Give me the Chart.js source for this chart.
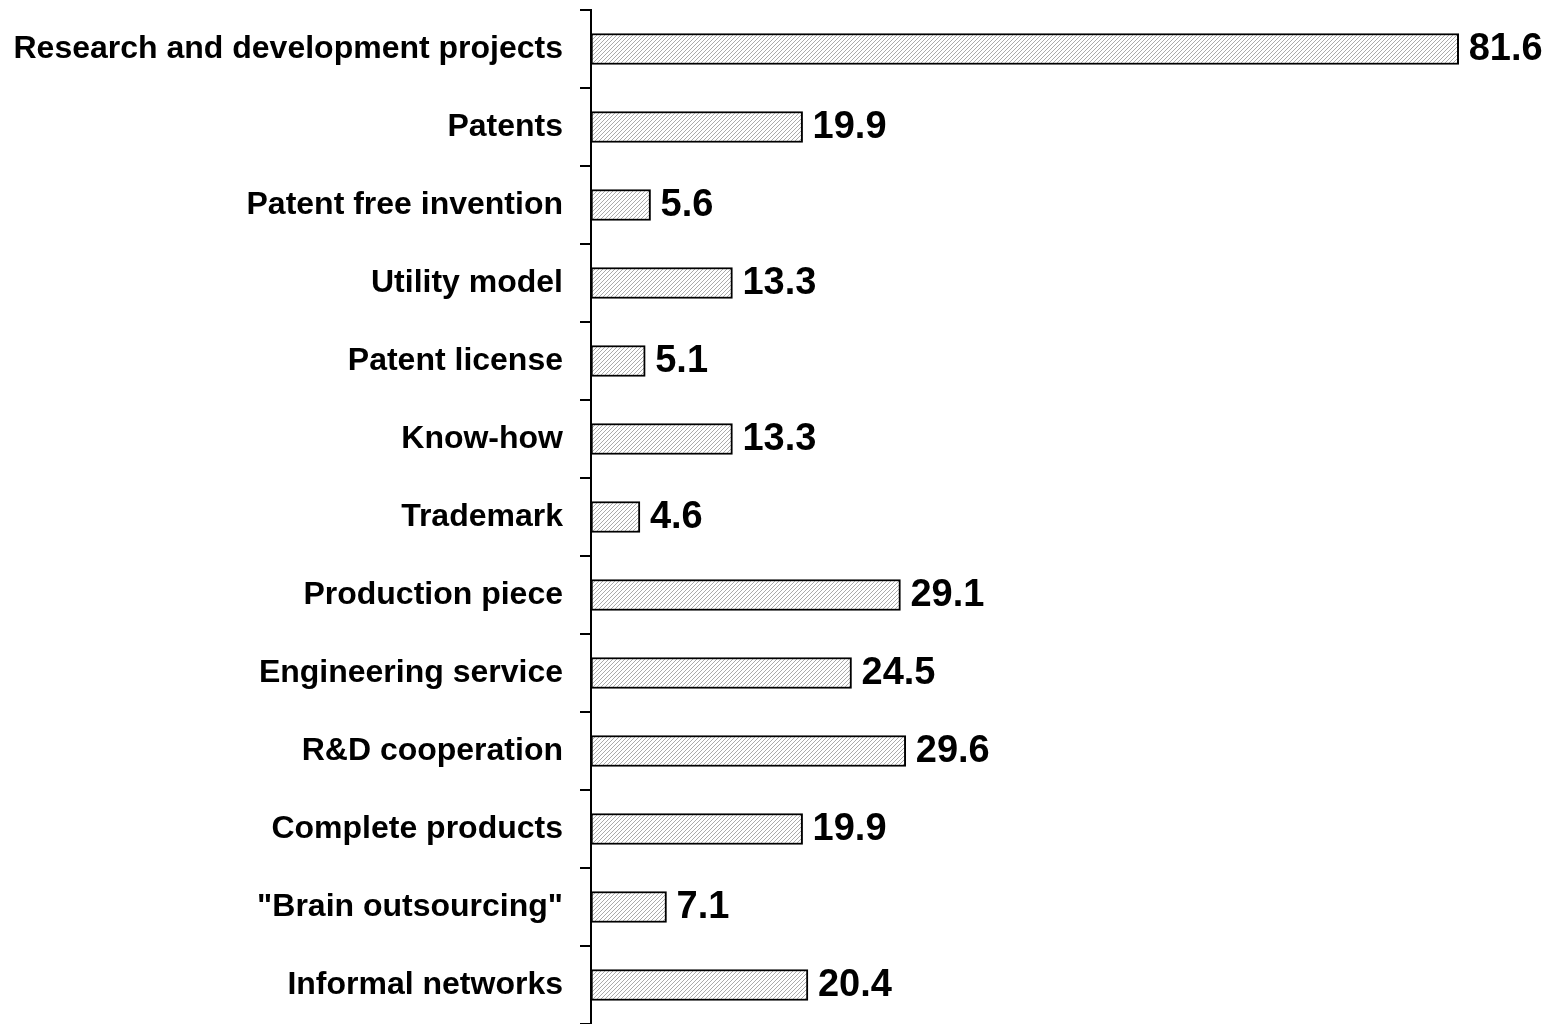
<!DOCTYPE html>
<html>
<head>
<meta charset="utf-8">
<script src="https://cdn.jsdelivr.net/npm/chart.js@4/dist/chart.umd.min.js"></script>
<style>
  html, body { margin: 0; padding: 0; background: #fff; }
  #wrap { width: 1551px; height: 1024px; }
</style>
</head>
<body>
<div id="wrap"><canvas id="chart" width="1551" height="1024"></canvas></div>
<script>
const categories = [
  'Research and development projects',
  'Patents',
  'Patent free invention',
  'Utility model',
  'Patent license',
  'Know-how',
  'Trademark',
  'Production piece',
  'Engineering service',
  'R&D cooperation',
  'Complete products',
  '"Brain outsourcing"',
  'Informal networks'
];
const values = [81.6, 19.9, 5.6, 13.3, 5.1, 13.3, 4.6, 29.1, 24.5, 29.6, 19.9, 7.1, 20.4];
const xMax = 90;

const FONT = '"Liberation Sans", Arial, sans-serif';

// diagonal hatch like the old office fill
function makeHatch() {
  const c = document.createElement('canvas');
  c.width = 4; c.height = 4;
  const g = c.getContext('2d');
  g.fillStyle = '#fff';
  g.fillRect(0, 0, 4, 4);
  g.fillStyle = '#ababab';
  for (let i = 0; i < 4; i++) g.fillRect(i, 3 - i, 1, 1);
  return g.createPattern(c, 'repeat');
}

const valueLabels = {
  id: 'valueLabels',
  afterDatasetsDraw(chart) {
    const ctx = chart.ctx;
    const meta = chart.getDatasetMeta(0);
    ctx.save();
    ctx.font = 'bold 38px ' + FONT;
    ctx.fillStyle = '#000';
    ctx.textAlign = 'left';
    ctx.textBaseline = 'middle';
    meta.data.forEach((bar, i) => {
      ctx.fillText(values[i].toFixed(1), bar.x + 10, bar.y + 1);
    });
    ctx.restore();
  }
};

const ctx = document.getElementById('chart').getContext('2d');
new Chart(ctx, {
  type: 'bar',
  data: {
    labels: categories,
    datasets: [{
      data: values,
      backgroundColor: makeHatch(),
      borderColor: '#000',
      borderWidth: 2,
      borderSkipped: false,
      barThickness: 31
    }]
  },
  options: {
    indexAxis: 'y',
    responsive: false,
    animation: false,
    layout: { padding: { top: 10, right: 3, bottom: 0, left: 0 } },
    plugins: { legend: { display: false }, tooltip: { enabled: false } },
    scales: {
      x: { display: false, min: 0, max: xMax },
      y: {
        border: { display: true, color: '#000', width: 2 },
        grid: { drawOnChartArea: false, drawTicks: true, tickLength: 11, color: '#000', lineWidth: 2, offset: true },
        ticks: { color: '#000', padding: 17, font: { family: FONT, size: 32, weight: 'bold' } },
        afterFit(scale) {
          // keep the category band flush with top and bottom
          scale.paddingTop = 0;
          scale.paddingBottom = 0;
          scale.width = 591;
        }
      }
    }
  },
  plugins: [valueLabels]
});
</script>
</body>
</html>
